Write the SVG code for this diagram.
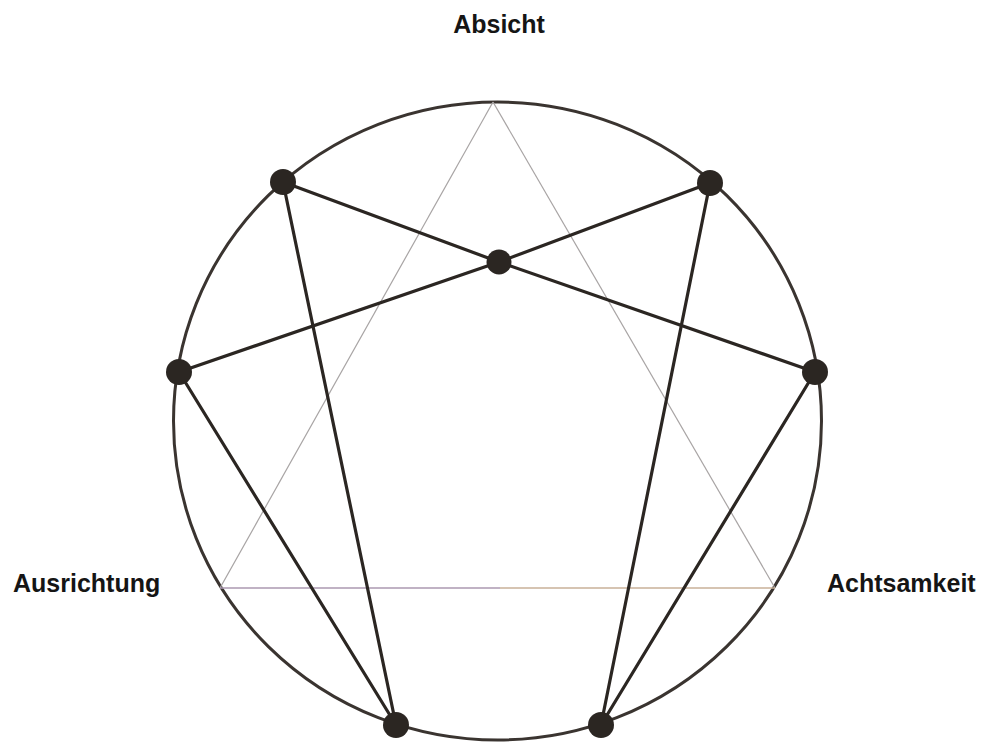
<svg xmlns="http://www.w3.org/2000/svg" width="982" height="745" viewBox="0 0 982 745">
<style>
.lbl{font-family:"Liberation Sans",Arial,sans-serif;font-weight:bold;font-size:25px;fill:#151515}
.thin{stroke:#a8a4a4;stroke-width:1.2;fill:none}
.thick{stroke:#2b2622;stroke-width:3.2;fill:none;stroke-linecap:round}
.dot{fill:#2b2622}
</style>
<rect width="982" height="745" fill="#ffffff"/>
<g id="circle">
<ellipse cx="497.5" cy="421" rx="324" ry="319" fill="none" stroke="#3a3430" stroke-width="3"/>
</g>
<g id="triangle">
<line class="thin" x1="493" y1="102" x2="220" y2="588"/>
<line class="thin" x1="493" y1="102" x2="775" y2="588"/>
<line x1="220" y1="588" x2="500" y2="588" stroke="#ab98b0" stroke-width="1.3"/>
<line x1="500" y1="588" x2="775" y2="588" stroke="#c8b098" stroke-width="1.3"/>
</g>
<g id="connectors">
<line class="thick" x1="283" y1="182" x2="499" y2="262"/>
<line class="thick" x1="499" y1="262" x2="815" y2="372"/>
<line class="thick" x1="179" y1="372" x2="499" y2="262"/>
<line class="thick" x1="499" y1="262" x2="710" y2="183"/>
<line class="thick" x1="283" y1="182" x2="396" y2="725"/>
<line class="thick" x1="179" y1="372" x2="396" y2="725"/>
<line class="thick" x1="710" y1="183" x2="601" y2="725"/>
<line class="thick" x1="815" y1="372" x2="601" y2="725"/>
</g>
<g id="node-top-left"><circle class="dot" cx="283" cy="182" r="13"/></g>
<g id="node-top-right"><circle class="dot" cx="710" cy="183" r="13"/></g>
<g id="node-center"><circle class="dot" cx="499" cy="262" r="12.5"/></g>
<g id="node-left"><circle class="dot" cx="179" cy="372" r="13"/></g>
<g id="node-right"><circle class="dot" cx="815" cy="372" r="13"/></g>
<g id="node-bottom-left"><circle class="dot" cx="396" cy="725" r="13"/></g>
<g id="node-bottom-right"><circle class="dot" cx="601" cy="725" r="13"/></g>
<g id="label-absicht"><text class="lbl" x="499" y="33" text-anchor="middle">Absicht</text></g>
<g id="label-ausrichtung"><text class="lbl" x="13" y="592">Ausrichtung</text></g>
<g id="label-achtsamkeit"><text class="lbl" x="827" y="592">Achtsamkeit</text></g>
</svg>
